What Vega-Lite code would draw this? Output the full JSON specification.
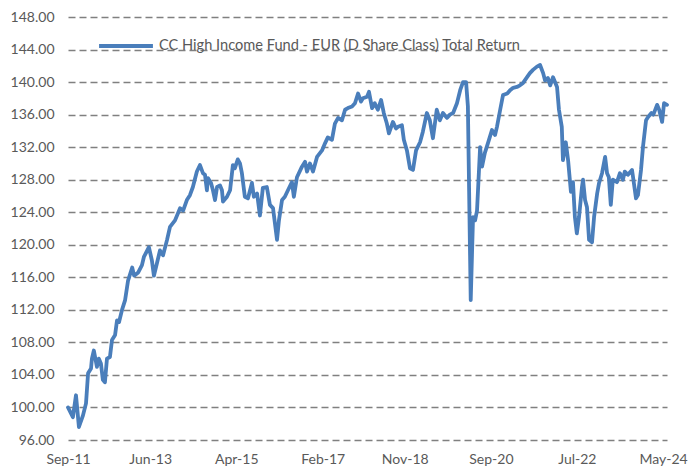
{
  "$schema": "https://vega.github.io/schema/vega-lite/v6.json",
  "width": 599,
  "height": 423,
  "autosize": "none",
  "padding": {"left": 68, "top": 17, "right": 21, "bottom": 30},
  "background": "white",
  "config": {"view": {"stroke": null}, "font": "Lato"},
  "data": {"values": [
    {"date": "2011-09-01", "v": 100.0},
    {"date": "2011-10-09", "v": 98.8},
    {"date": "2011-11-02", "v": 101.5},
    {"date": "2011-11-25", "v": 97.6},
    {"date": "2011-12-26", "v": 99.0},
    {"date": "2012-01-19", "v": 100.5},
    {"date": "2012-02-04", "v": 104.2},
    {"date": "2012-02-27", "v": 104.8},
    {"date": "2012-03-05", "v": 106.0},
    {"date": "2012-03-20", "v": 107.0},
    {"date": "2012-04-13", "v": 105.0},
    {"date": "2012-04-28", "v": 106.0},
    {"date": "2012-05-14", "v": 105.4},
    {"date": "2012-05-29", "v": 103.4},
    {"date": "2012-06-14", "v": 103.1},
    {"date": "2012-06-30", "v": 106.0},
    {"date": "2012-07-23", "v": 106.2},
    {"date": "2012-08-08", "v": 108.3},
    {"date": "2012-09-01", "v": 108.9},
    {"date": "2012-09-16", "v": 110.7},
    {"date": "2012-10-02", "v": 110.5},
    {"date": "2012-10-25", "v": 112.0},
    {"date": "2012-11-18", "v": 113.2},
    {"date": "2012-12-11", "v": 115.6},
    {"date": "2013-01-12", "v": 117.2},
    {"date": "2013-01-27", "v": 116.2},
    {"date": "2013-02-28", "v": 116.6},
    {"date": "2013-03-29", "v": 117.5},
    {"date": "2013-04-13", "v": 118.5},
    {"date": "2013-05-22", "v": 119.7},
    {"date": "2013-06-14", "v": 118.1},
    {"date": "2013-06-30", "v": 116.2},
    {"date": "2013-07-23", "v": 117.7},
    {"date": "2013-08-16", "v": 119.3},
    {"date": "2013-09-09", "v": 118.7},
    {"date": "2013-10-10", "v": 120.6},
    {"date": "2013-11-02", "v": 122.2},
    {"date": "2013-12-11", "v": 123.0},
    {"date": "2014-01-19", "v": 124.5},
    {"date": "2014-02-12", "v": 124.2},
    {"date": "2014-03-13", "v": 125.5},
    {"date": "2014-04-06", "v": 126.1},
    {"date": "2014-04-29", "v": 127.1},
    {"date": "2014-05-30", "v": 129.0},
    {"date": "2014-06-23", "v": 129.8},
    {"date": "2014-07-16", "v": 128.8},
    {"date": "2014-08-01", "v": 128.6},
    {"date": "2014-08-16", "v": 126.7},
    {"date": "2014-08-24", "v": 128.2},
    {"date": "2014-09-17", "v": 127.6},
    {"date": "2014-10-02", "v": 126.7},
    {"date": "2014-10-18", "v": 125.5},
    {"date": "2014-11-03", "v": 127.1},
    {"date": "2014-11-26", "v": 127.3},
    {"date": "2014-12-11", "v": 126.7},
    {"date": "2014-12-19", "v": 125.3},
    {"date": "2015-01-19", "v": 125.9},
    {"date": "2015-02-12", "v": 126.7},
    {"date": "2015-03-06", "v": 129.8},
    {"date": "2015-03-21", "v": 129.4},
    {"date": "2015-04-13", "v": 130.5},
    {"date": "2015-04-30", "v": 130.0},
    {"date": "2015-05-15", "v": 128.8},
    {"date": "2015-06-07", "v": 125.9},
    {"date": "2015-07-01", "v": 125.7},
    {"date": "2015-08-01", "v": 127.6},
    {"date": "2015-08-16", "v": 125.9},
    {"date": "2015-09-10", "v": 126.3},
    {"date": "2015-10-02", "v": 123.6},
    {"date": "2015-10-25", "v": 127.0},
    {"date": "2015-11-25", "v": 127.1},
    {"date": "2015-12-19", "v": 124.9},
    {"date": "2016-01-12", "v": 124.5},
    {"date": "2016-02-12", "v": 120.6},
    {"date": "2016-02-27", "v": 123.0},
    {"date": "2016-03-22", "v": 125.5},
    {"date": "2016-04-13", "v": 125.9},
    {"date": "2016-05-07", "v": 126.7},
    {"date": "2016-06-07", "v": 127.7},
    {"date": "2016-06-22", "v": 125.9},
    {"date": "2016-07-16", "v": 128.3},
    {"date": "2016-08-24", "v": 129.6},
    {"date": "2016-09-17", "v": 130.2},
    {"date": "2016-10-02", "v": 129.0},
    {"date": "2016-10-25", "v": 130.0},
    {"date": "2016-11-18", "v": 129.0},
    {"date": "2016-12-19", "v": 130.8},
    {"date": "2017-01-27", "v": 131.6},
    {"date": "2017-02-20", "v": 132.5},
    {"date": "2017-03-13", "v": 133.2},
    {"date": "2017-04-14", "v": 132.9},
    {"date": "2017-05-07", "v": 134.9},
    {"date": "2017-06-01", "v": 135.6},
    {"date": "2017-07-01", "v": 135.3},
    {"date": "2017-07-25", "v": 136.6},
    {"date": "2017-08-16", "v": 136.8},
    {"date": "2017-09-17", "v": 137.0},
    {"date": "2017-10-10", "v": 137.4},
    {"date": "2017-11-03", "v": 138.6},
    {"date": "2017-11-26", "v": 137.6},
    {"date": "2017-12-11", "v": 138.0},
    {"date": "2018-01-12", "v": 138.2},
    {"date": "2018-01-27", "v": 138.8},
    {"date": "2018-02-20", "v": 136.8},
    {"date": "2018-03-13", "v": 137.4},
    {"date": "2018-04-06", "v": 136.6},
    {"date": "2018-05-01", "v": 137.8},
    {"date": "2018-05-22", "v": 136.2},
    {"date": "2018-06-15", "v": 134.9},
    {"date": "2018-07-01", "v": 133.7},
    {"date": "2018-08-01", "v": 135.1},
    {"date": "2018-08-25", "v": 134.3},
    {"date": "2018-09-10", "v": 134.5},
    {"date": "2018-10-10", "v": 134.7},
    {"date": "2018-10-25", "v": 132.9},
    {"date": "2018-11-18", "v": 131.6},
    {"date": "2018-12-12", "v": 129.4},
    {"date": "2019-01-04", "v": 129.2},
    {"date": "2019-01-28", "v": 131.6},
    {"date": "2019-02-28", "v": 132.6},
    {"date": "2019-03-22", "v": 133.9},
    {"date": "2019-04-22", "v": 136.2},
    {"date": "2019-05-15", "v": 135.3},
    {"date": "2019-06-08", "v": 133.1},
    {"date": "2019-07-08", "v": 136.6},
    {"date": "2019-08-01", "v": 135.3},
    {"date": "2019-08-25", "v": 136.2},
    {"date": "2019-09-25", "v": 135.6},
    {"date": "2019-10-18", "v": 136.0},
    {"date": "2019-11-12", "v": 136.2},
    {"date": "2019-12-12", "v": 137.4},
    {"date": "2020-01-06", "v": 139.0},
    {"date": "2020-01-28", "v": 140.0},
    {"date": "2020-02-21", "v": 140.0},
    {"date": "2020-03-06", "v": 137.0},
    {"date": "2020-03-28", "v": 113.2},
    {"date": "2020-04-15", "v": 123.4},
    {"date": "2020-05-01", "v": 123.0},
    {"date": "2020-05-16", "v": 124.2},
    {"date": "2020-06-09", "v": 132.0},
    {"date": "2020-06-24", "v": 129.6},
    {"date": "2020-07-16", "v": 131.3},
    {"date": "2020-08-09", "v": 132.5},
    {"date": "2020-09-09", "v": 134.1},
    {"date": "2020-10-03", "v": 133.5},
    {"date": "2020-10-18", "v": 134.5},
    {"date": "2020-11-12", "v": 136.6},
    {"date": "2020-12-04", "v": 138.4},
    {"date": "2021-01-06", "v": 138.6},
    {"date": "2021-01-28", "v": 139.0},
    {"date": "2021-02-21", "v": 139.3},
    {"date": "2021-03-22", "v": 139.4},
    {"date": "2021-04-15", "v": 139.6},
    {"date": "2021-05-09", "v": 139.9},
    {"date": "2021-06-09", "v": 140.6},
    {"date": "2021-07-01", "v": 141.1},
    {"date": "2021-07-25", "v": 141.5},
    {"date": "2021-08-25", "v": 141.9},
    {"date": "2021-09-18", "v": 142.1},
    {"date": "2021-10-12", "v": 141.1},
    {"date": "2021-10-27", "v": 140.2},
    {"date": "2021-11-18", "v": 140.5},
    {"date": "2021-12-06", "v": 139.6},
    {"date": "2021-12-28", "v": 140.6},
    {"date": "2022-01-28", "v": 139.4},
    {"date": "2022-02-12", "v": 136.6},
    {"date": "2022-03-06", "v": 134.5},
    {"date": "2022-03-15", "v": 130.4},
    {"date": "2022-04-06", "v": 132.6},
    {"date": "2022-04-24", "v": 130.4},
    {"date": "2022-05-16", "v": 126.5},
    {"date": "2022-06-01", "v": 127.7},
    {"date": "2022-06-16", "v": 123.4},
    {"date": "2022-07-01", "v": 121.4},
    {"date": "2022-07-18", "v": 123.4},
    {"date": "2022-08-10", "v": 127.1},
    {"date": "2022-08-18", "v": 128.0},
    {"date": "2022-09-03", "v": 125.5},
    {"date": "2022-09-18", "v": 124.6},
    {"date": "2022-10-04", "v": 120.6},
    {"date": "2022-10-27", "v": 120.3},
    {"date": "2022-11-12", "v": 123.4},
    {"date": "2022-12-06", "v": 126.3},
    {"date": "2022-12-21", "v": 127.6},
    {"date": "2023-01-13", "v": 128.8},
    {"date": "2023-02-06", "v": 130.8},
    {"date": "2023-02-21", "v": 128.8},
    {"date": "2023-03-07", "v": 128.3},
    {"date": "2023-03-22", "v": 124.9},
    {"date": "2023-04-07", "v": 128.0},
    {"date": "2023-05-09", "v": 127.7},
    {"date": "2023-06-01", "v": 128.8},
    {"date": "2023-06-24", "v": 128.0},
    {"date": "2023-07-09", "v": 129.0},
    {"date": "2023-08-02", "v": 128.6},
    {"date": "2023-09-03", "v": 129.2},
    {"date": "2023-09-12", "v": 128.2},
    {"date": "2023-10-04", "v": 125.7},
    {"date": "2023-10-19", "v": 126.1},
    {"date": "2023-11-12", "v": 129.2},
    {"date": "2023-11-27", "v": 132.0},
    {"date": "2023-12-21", "v": 135.3},
    {"date": "2024-01-06", "v": 135.7},
    {"date": "2024-02-01", "v": 136.2},
    {"date": "2024-02-16", "v": 136.0},
    {"date": "2024-03-16", "v": 137.2},
    {"date": "2024-04-01", "v": 136.6},
    {"date": "2024-04-24", "v": 135.1},
    {"date": "2024-05-09", "v": 137.4},
    {"date": "2024-06-01", "v": 137.2}
  ]},
  "mark": {"type": "line", "strokeWidth": 3.8, "strokeJoin": "round", "strokeCap": "round", "clip": false},
  "encoding": {
    "x": {
      "field": "date", "type": "temporal",
      "scale": {"domain": ["2011-09-01", "2024-06-01"], "nice": false},
      "axis": {
        "title": null,
        "values": ["2011-09-01", "2013-06-01", "2015-04-01", "2017-02-01", "2018-11-01", "2020-09-01", "2022-07-01", "2024-05-01"],
        "format": "%b-%y",
        "grid": false, "ticks": false, "domain": false,
        "labelPadding": 12, "labelFontSize": 14, "labelColor": "#595959",
        "labelFlush": false, "labelOverlap": false, "labelFont": "Lato"
      }
    },
    "y": {
      "field": "v", "type": "quantitative",
      "scale": {"domain": [96, 148], "nice": false, "zero": false},
      "axis": {
        "title": null,
        "values": [96, 100, 104, 108, 112, 116, 120, 124, 128, 132, 136, 140, 144, 148],
        "format": ".2f",
        "ticks": false, "domain": false,
        "grid": true, "gridColor": "#808080", "gridDash": [7, 4], "gridWidth": 1.3,
        "labelPadding": 14, "labelFontSize": 14, "labelColor": "#595959", "labelFont": "Lato"
      }
    },
    "color": {
      "datum": "CC High Income Fund - EUR (D Share Class) Total Return",
      "type": "nominal",
      "scale": {"range": ["#4a7ebb"]},
      "legend": {
        "title": null, "orient": "none", "legendX": 29, "legendY": 0,
        "symbolType": "stroke", "symbolSize": 2900, "symbolStrokeWidth": 3.8,
        "labelFontSize": 14.6, "labelColor": "#595959", "labelFont": "Lato",
        "labelOffset": 4, "padding": 0, "labelLimit": 600
      }
    }
  }
}
